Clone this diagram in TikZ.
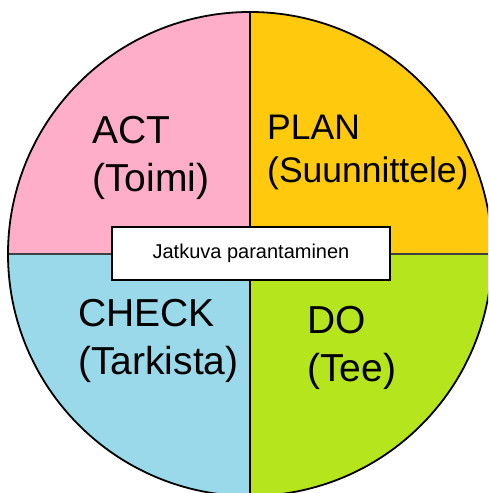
\documentclass[tikz,border=0pt]{standalone}
\usepackage{fontspec}
\setmainfont{Liberation Sans}
\definecolor{actpink}{RGB}{255,174,201}
\definecolor{plangold}{RGB}{255,201,14}
\definecolor{checkblue}{RGB}{153,217,234}
\definecolor{dolime}{RGB}{181,230,29}
\begin{document}
\begin{tikzpicture}[x=1pt,y=1pt,
	phase/.style={anchor=base west,inner sep=0pt,align=left,font=\fontsize{39}{48}\selectfont},
	midbox/.style={draw,line width=1.5pt,fill=white,minimum width=278pt,minimum height=53pt,inner sep=0pt,font=\fontsize{20}{24}\selectfont}]
			\clip (0,0) rectangle (488,493);
			\coordinate (c) at (250,239);
			% quarters
			\fill[actpink] (c) -- (8,239) arc [start angle=180, end angle=90, radius=242] -- cycle;
			\fill[plangold] (c) -- (250,481) arc [start angle=90, end angle=0, radius=242] -- cycle;
			\fill[dolime] (c) -- (492,239) arc [start angle=0, end angle=-90, radius=242] -- cycle;
			\fill[checkblue] (c) -- (250,-3) arc [start angle=-90, end angle=-180, radius=242] -- cycle;
			\draw[line width=1.5pt](250,481)--(250,-3);
			\draw[line width=2pt,black!75](8,239)--(492,239);
			\draw[line width=1.8pt] (c) circle [radius=242];
			\node[midbox] (jatkuva) at(251,239.5){Jatkuva parantaminen};
			% base anchor sits on the last line
			\node[phase] (act) at(92,301){ACT\\(Toimi)};
			\node[phase,font=\fontsize{35.5}{43}\selectfont] (plan) at(267,310){PLAN\\(Suunnittele)};
			\node[phase] (check) at(78,118){CHECK\\(Tarkista)};
			\node[phase] (do) at(307,111){DO\\(Tee)};
			\end{tikzpicture}
\end{document}
